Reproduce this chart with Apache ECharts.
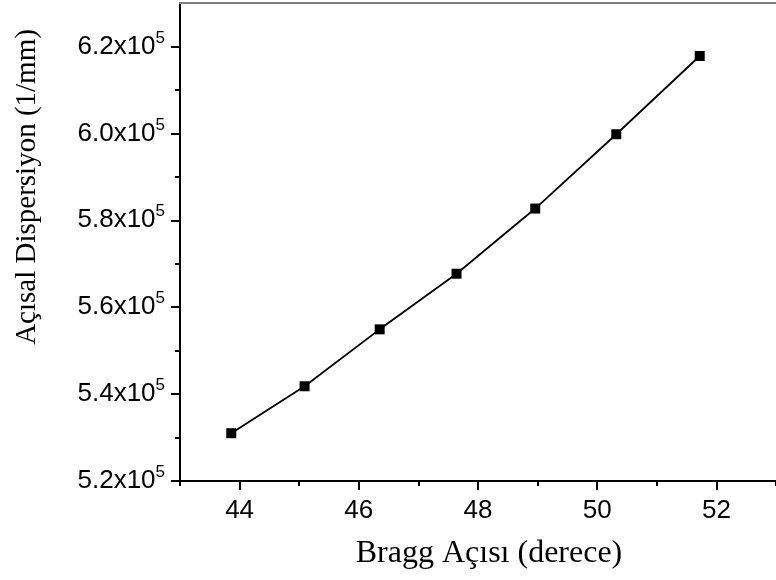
<!DOCTYPE html>
<html><head><meta charset="utf-8">
<script src="https://cdn.jsdelivr.net/npm/echarts@6/dist/echarts.min.js"></script>
<style>html,body{margin:0;padding:0;background:#fff}#c{width:776px;height:580px}</style>
</head><body><div id="c"></div>
<script>
const braggAngle = [43.86, 45.09, 46.35, 47.64, 48.96, 50.32, 51.72];
const dispersion = [531000, 541800, 554900, 567700, 582700, 599800, 617800];
const xMajorTicks = [44, 46, 48, 50, 52];
const xMinorTicks = [43, 45, 47, 49, 51, 53];
const yMajorTicks = [520000, 540000, 560000, 580000, 600000, 620000];
const yMinorTicks = [530000, 550000, 570000, 590000, 610000];
const xTitle = 'Bragg Açısı (derece)';
const yTitle = 'Açısal Dispersiyon (1/mm)';

const sans = '"Liberation Sans", Arial, sans-serif';
const serif = '"Liberation Serif", "Times New Roman", serif';
const X_MIN = 43, X_MAX = 53, Y_MIN = 520000, Y_MAX = 630000;

const chart = echarts.init(document.getElementById('c'), null, {renderer: 'canvas'});
const hidden = {show: false};
chart.setOption({
  animation: false,
  backgroundColor: '#fff',
  grid: {left: 180, top: 3, width: 602.5, height: 478, containLabel: false},
  xAxis: [
    {
      type: 'value', min: X_MIN, max: X_MAX, position: 'bottom',
      name: xTitle, nameLocation: 'middle', nameGap: 57,
      nameTextStyle: {fontFamily: serif, fontSize: 32, color: '#000', padding: [0, 0, 0, 22]},
      axisLine: {show: true, lineStyle: {color: '#000', width: 2}},
      axisTick: {show: true, inside: false, length: 9, lineStyle: {color: '#000', width: 2}, customValues: xMajorTicks},
      axisLabel: {show: true, customValues: xMajorTicks, margin: 17, fontFamily: sans, fontSize: 26, color: '#000'},
      splitLine: hidden
    },
    {
      type: 'value', min: X_MIN, max: X_MAX, position: 'bottom',
      axisLine: hidden,
      axisTick: {show: true, length: 5, lineStyle: {color: '#000', width: 2}, customValues: xMinorTicks},
      axisLabel: hidden, splitLine: hidden
    },
    {
      type: 'value', min: X_MIN, max: X_MAX, position: 'top',
      axisLine: {show: true, lineStyle: {color: '#808080', width: 2}},
      axisTick: hidden, axisLabel: hidden, splitLine: hidden
    }
  ],
  yAxis: [
    {
      type: 'value', min: Y_MIN, max: Y_MAX, position: 'left',
      name: yTitle, nameLocation: 'middle', nameGap: 138,
      nameTextStyle: {fontFamily: serif, fontSize: 29, color: '#000', padding: [0, 0, 0, 110]},
      axisLine: {show: true, lineStyle: {color: '#000', width: 2}},
      axisTick: {show: true, length: 9, lineStyle: {color: '#000', width: 2}, customValues: yMajorTicks},
      axisLabel: {
        show: true, customValues: yMajorTicks, margin: 15, color: '#000',
        fontFamily: sans, fontSize: 26,
        formatter: v => '{n|' + (v / 1e5).toFixed(1) + 'x10}{s|5}',
        rich: {
          n: {fontFamily: sans, fontSize: 26, color: '#000'},
          s: {fontFamily: sans, fontSize: 17, color: '#000', padding: [0, 0, 17, 0]}
        }
      },
      splitLine: hidden
    },
    {
      type: 'value', min: Y_MIN, max: Y_MAX, position: 'left',
      axisLine: hidden,
      axisTick: {show: true, length: 5, lineStyle: {color: '#000', width: 2}, customValues: yMinorTicks},
      axisLabel: hidden, splitLine: hidden
    }
  ],
  series: [{
    type: 'line',
    xAxisIndex: 0, yAxisIndex: 0,
    data: braggAngle.map((x, i) => [x, dispersion[i]]),
    symbol: 'rect', symbolSize: 10, showSymbol: true,
    lineStyle: {color: '#000', width: 1.8},
    itemStyle: {color: '#000'},
    clip: false
  }]
});
</script></body></html>
